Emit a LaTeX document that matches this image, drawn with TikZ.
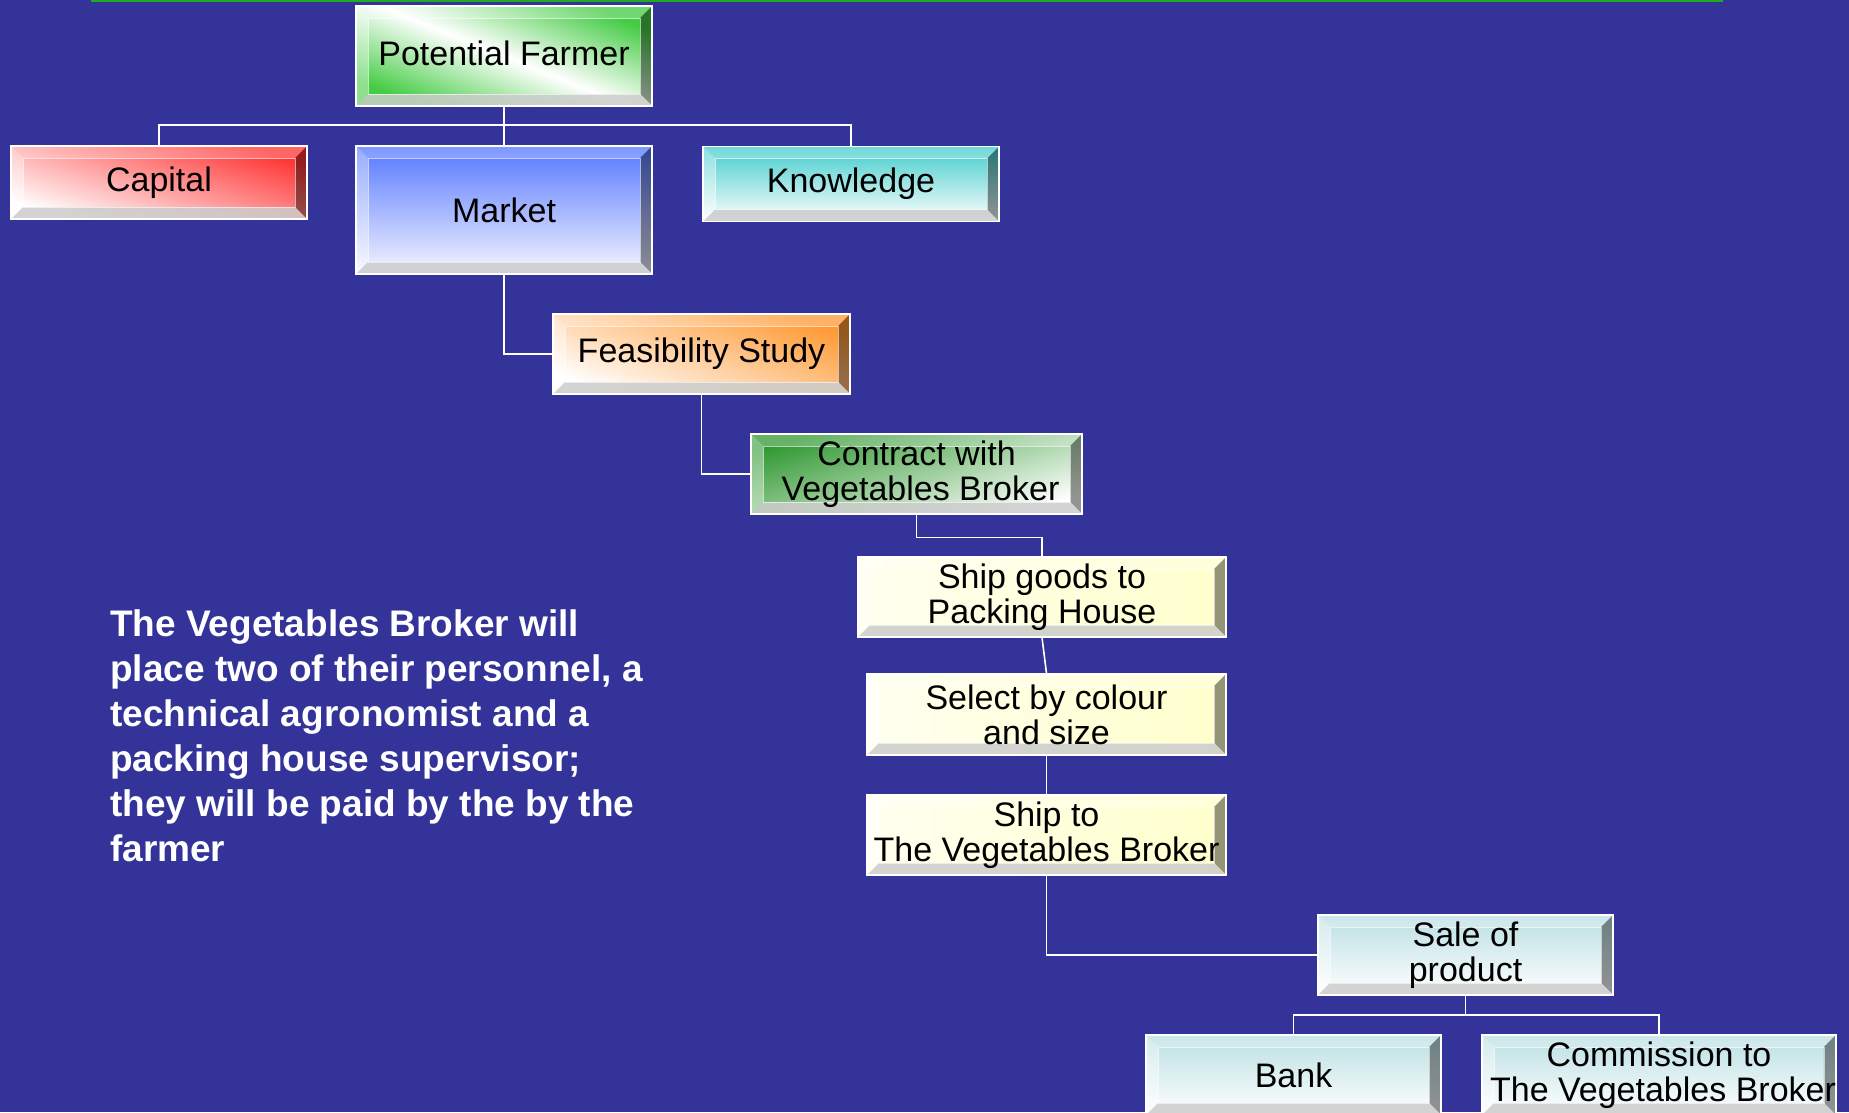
\documentclass[tikz,border=0pt]{standalone}
\usepackage{fontspec}
\setmainfont{Liberation Sans}
\usetikzlibrary{calc}
\definecolor{bg}{HTML}{333399}
\definecolor{topgreen}{HTML}{22AA22}
\definecolor{pfgreen}{HTML}{44CC44}
\definecolor{capred}{HTML}{FF3333}
\definecolor{mkblue}{HTML}{5577FF}
\definecolor{mkwhite}{HTML}{F6F6FF}
\definecolor{knteal}{HTML}{44CCCC}
\definecolor{fsorange}{HTML}{FF9933}
\definecolor{ctgreen}{HTML}{339933}
\definecolor{pyellow}{HTML}{FFFFCC}
\definecolor{pyellowl}{HTML}{FFFFF0}
\definecolor{lteal}{HTML}{BBDFE3}
\tikzset{
  box/.style={draw=white, line width=1.2pt, inner sep=0pt, align=center,
    text=black, font=\fontsize{34}{35}\selectfont,
    path picture={
      % top bevel
      \fill[white,opacity=.25] (path picture bounding box.north west) -- (path picture bounding box.north east)
        -- ([shift={(-12pt,-12pt)}]path picture bounding box.north east)
        -- ([shift={(12pt,-12pt)}]path picture bounding box.north west) -- cycle;
      % left bevel
      \fill[white,opacity=.4] (path picture bounding box.north west) -- (path picture bounding box.south west)
        -- ([shift={(12pt,12pt)}]path picture bounding box.south west)
        -- ([shift={(12pt,-12pt)}]path picture bounding box.north west) -- cycle;
      % right bevel
      \fill[black,opacity=.42] (path picture bounding box.north east) -- (path picture bounding box.south east)
        -- ([shift={(-12pt,12pt)}]path picture bounding box.south east)
        -- ([shift={(-12pt,-12pt)}]path picture bounding box.north east) -- cycle;
      % bottom bevel
      \fill[black!20,opacity=.85] (path picture bounding box.south west) -- (path picture bounding box.south east)
        -- ([shift={(-12pt,12pt)}]path picture bounding box.south east)
        -- ([shift={(12pt,12pt)}]path picture bounding box.south west) -- cycle;
      % inner edge
      \draw[white,opacity=.6,line width=0.8pt]
        ([shift={(12pt,12pt)}]path picture bounding box.south west) rectangle
        ([shift={(-12pt,-12pt)}]path picture bounding box.north east);
    }},
  pfbox/.style={box, top color=pfgreen, bottom color=pfgreen, middle color=white, shading angle=-22},
  capbox/.style={box, top color=capred, bottom color=white, shading angle=-18},
  mkbox/.style={box, top color=mkblue, bottom color=mkwhite},
  knbox/.style={box, top color=knteal, bottom color=white},
  fsbox/.style={box, top color=fsorange, bottom color=white, shading angle=-20},
  ctbox/.style={box, top color=ctgreen, bottom color=white, shading angle=18},
  ylbox/.style={box, left color=pyellowl, right color=pyellow},
  tlbox/.style={box, top color=lteal, bottom color=white},
  conn/.style={draw=white, line width=1.6pt},
}
\begin{document}
\begin{tikzpicture}[x=1pt,y=-1pt]
\fill[bg] (0,0) rectangle (1849,1112);
\useasboundingbox (0,0) rectangle (1849,1112);
\draw[topgreen, line width=2.5pt] (91,1) -- (1723,1);

\coordinate (bus1) at (504,125);
\coordinate (bus2) at (1465.5,1015);

\node[pfbox, minimum width=296pt, minimum height=100pt] (pf) at (504,56) {Potential Farmer\rule[-6pt]{0pt}{0pt}};
\node[capbox, minimum width=296pt, minimum height=73pt] (cap) at (159,182.5) {Capital};
\node[mkbox, minimum width=296pt, minimum height=128pt] (mk) at (504,210) {Market};
\node[knbox, minimum width=296pt, minimum height=75pt] (kn) at (851,184) {Knowledge};
\node[fsbox, minimum width=297pt, minimum height=80pt] (fs) at (701.5,354) {Feasibility Study};
\node[ctbox, minimum width=331pt, minimum height=80pt] (ct) at (916.5,474) {Contract with\\\hspace*{8pt}Vegetables Broker};
\node[ylbox, minimum width=368pt, minimum height=80pt] (sg) at (1042,597) {Ship goods to\\Packing House};
\node[ylbox, minimum width=359pt, minimum height=81pt] (sel) at (1046.5,714.5) {Select by colour\\and size};
\node[ylbox, minimum width=359pt, minimum height=80pt] (st) at (1046.5,835) {Ship to\\The Vegetables Broker};
\node[tlbox, minimum width=295pt, minimum height=80pt] (sale) at (1465.5,955) {Sale of\\product};
\node[tlbox, minimum width=295pt, minimum height=80pt] (bank) at (1293.5,1075) {Bank};
\node[tlbox, minimum width=352pt, minimum height=80pt] (com) at (1659,1075) {Commission to\\\hspace*{8pt}The Vegetables Broker};

\draw[conn] (pf.south) -- (bus1);
\draw[conn] (cap.north) |- (bus1) -| (kn.north);
\draw[conn] (bus1) -- (mk.north);
\draw[conn] (mk.south) |- (fs.west);
\draw[conn] (fs.south) |- (ct.west);
\draw[conn] (ct.south) -- ++(0,23) -| (sg.north);
\draw[conn] (sg.south) -- (sel.north);
\draw[conn] (sel.south) -- (st.north);
\draw[conn] (st.south) |- (sale.west);
\draw[conn] (sale.south) -- (bus2);
\draw[conn] (bank.north) |- (bus2) -| (com.north);

\node[anchor=north west, inner sep=0pt, align=left, text=white,
      font=\bfseries\fontsize{37}{45}\selectfont] (note) at (110,609)
  {The Vegetables Broker will\\
   place two of their personnel, a\\
   technical agronomist and a\\
   packing house supervisor;\\
   they will be paid by the by the\\
   farmer};
\end{tikzpicture}
\end{document}
